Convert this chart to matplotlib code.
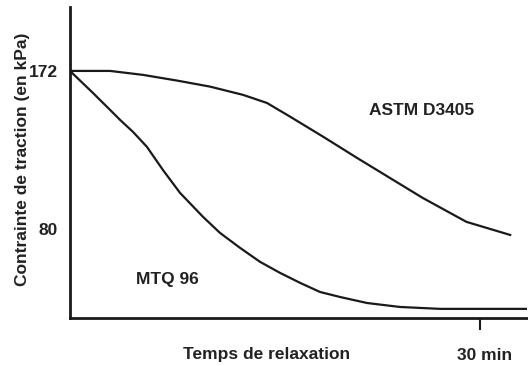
import matplotlib
matplotlib.use("Agg")
import matplotlib.pyplot as plt
import matplotlib.transforms as mtransforms

# temps (min) / contrainte (kPa)
astm_t = [0, 2.93, 5.34, 7.83, 10.24, 12.66, 14.41, 16.09, 18.5, 21.0, 23.4, 25.8, 29.0, 32.2]
astm_s = [172, 172, 169.7, 166.4, 162.9, 158.1, 153.4, 145.5, 133.9, 121.5, 109.9, 98.3, 84.4, 76.8]

mtq_t = [0, 1.68, 2.93, 3.66, 4.61, 5.63, 6.80, 8.05, 9.73, 10.97, 12.44, 13.90, 15.36,
         16.83, 18.29, 19.75, 21.73, 24.14, 27.07, 33.43]
mtq_s = [172, 159.2, 149.4, 143.6, 136.6, 127.9, 114.5, 101.2, 87.3, 78.0, 69.3, 61.2, 54.8,
         49.0, 43.7, 40.8, 37.3, 35.0, 33.9, 33.9]

y_ticks = [80, 172]
x_ticks = [30]
x_tick_labels = ["30 min"]

plt.rcParams["font.family"] = ["Liberation Sans", "DejaVu Sans"]
plt.rcParams["font.weight"] = "bold"
ink = "#1a1a1a"
txt = "#222222"

fig = plt.figure(figsize=(5.28, 3.66), dpi=100)
ax = fig.add_axes([70 / 528, 48 / 366, 457 / 528, 311 / 366])

ax.plot(astm_t, astm_s, color=ink, linewidth=1.6, solid_joinstyle="round")
ax.plot(mtq_t, mtq_s, color=ink, linewidth=1.6, solid_joinstyle="round")

ax.set_xlim(0, 33.43)
ax.set_ylim(28.6, 209.1)

for side in ["top", "right"]:
    ax.spines[side].set_visible(False)
for side in ["left", "bottom"]:
    ax.spines[side].set_linewidth(2)
    ax.spines[side].set_color(ink)

ax.set_yticks(y_ticks)
ax.set_yticklabels([str(v) for v in y_ticks])
ax.tick_params(axis="y", length=0, pad=9, labelsize=12.5, labelcolor=txt)

ax.set_xticks(x_ticks)
ax.set_xticklabels(x_tick_labels)
ax.tick_params(axis="x", length=8.6, width=1.5, color=ink, pad=13,
               labelsize=12.5, labelcolor=txt)
shift = mtransforms.ScaledTranslation(4 / 100, 0, fig.dpi_scale_trans)
for lab in ax.get_xticklabels():
    lab.set_transform(lab.get_transform() + shift)

ax.set_xlabel("Temps de relaxation", fontsize=12.5, fontweight="bold", color=txt)
ax.xaxis.set_label_coords(0.43, -0.116)
ax.xaxis.label.set_verticalalignment("center")

ax.set_ylabel("Contrainte de traction (en kPa)", fontsize=12.5, fontweight="bold", color=txt)
ax.yaxis.set_label_coords(-0.105, 0.51)
ax.yaxis.label.set_verticalalignment("center")

ax.text(25.7, 149, "ASTM D3405", fontsize=12.5, fontweight="bold", color=txt,
        ha="center", va="center")
ax.text(7.12, 50.9, "MTQ 96", fontsize=12.5, fontweight="bold", color=txt,
        ha="center", va="center")

fig.savefig("out.png", dpi=100)
plt.close(fig)
